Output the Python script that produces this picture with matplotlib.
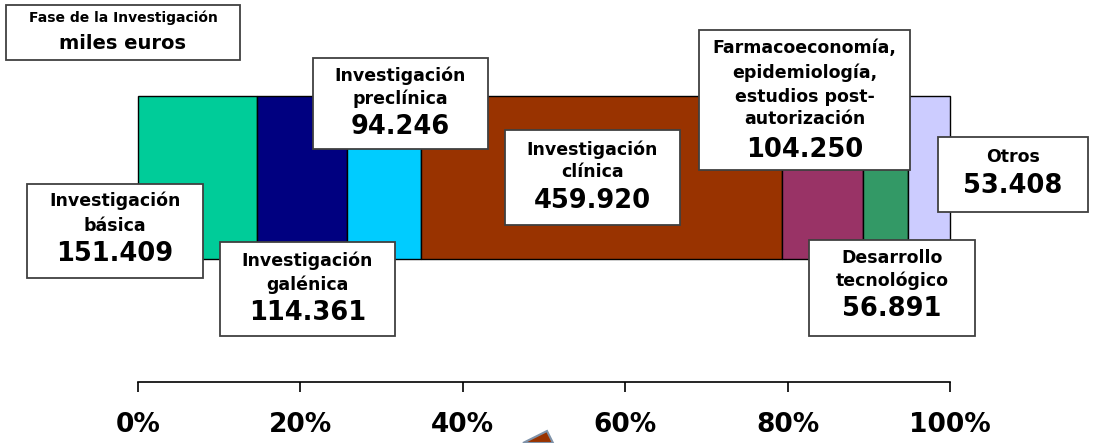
import matplotlib
matplotlib.use("Agg")
import matplotlib.pyplot as plt
from matplotlib.patches import Rectangle, Polygon
import numpy as np

# ---- data ----
categories = ["Investigación básica", "Investigación galénica", "Investigación preclínica",
              "Investigación clínica", "Farmacoeconomía, epidemiología, estudios post-autorización",
              "Desarrollo tecnológico", "Otros"]
values = [151.409, 114.361, 94.246, 459.920, 104.250, 56.891, 53.408]
value_labels = ["151.409", "114.361", "94.246", "459.920", "104.250", "56.891", "53.408"]
label_lines = [["Investigación", "básica"], ["Investigación", "galénica"],
               ["Investigación", "preclínica"], ["Investigación", "clínica"],
               ["Farmacoeconomía,", "epidemiología,", "estudios post-", "autorización"],
               ["Desarrollo", "tecnológico"], ["Otros"]]
colors = ["#00CC99", "#000080", "#00CCFF", "#993300", "#993366", "#339966", "#CCCCFF"]
tick_values = [0, 20, 40, 60, 80, 100]
tick_labels = ["0%", "20%", "40%", "60%", "80%", "100%"]

W, H = 1096, 443
fig = plt.figure(figsize=(W / 100, H / 100), dpi=100)
fig.patch.set_facecolor("white")

x0, x1 = 138, 950
ppu = (x1 - x0) / 100.0
ax = fig.add_axes([0, 0, 1, 1])
ax.set_xlim(-x0 / ppu, (W - x0) / ppu)
ax.set_ylim(H, 0)
ax.axis("off")

pct = np.array(values) / np.sum(values) * 100
left = np.concatenate([[0], np.cumsum(pct)[:-1]])
ax.barh(177.5, pct, left=left, height=163, color=colors, edgecolor="black",
        linewidth=1.0, zorder=2)

# axis below
ax2 = fig.add_axes([x0 / W, 1 - 382 / H, (x1 - x0) / W, 0.001])
ax2.set_xlim(0, 100)
ax2.set_facecolor("none")
for s in ["top", "left", "right"]:
    ax2.spines[s].set_visible(False)
ax2.spines["bottom"].set_linewidth(1.2)
ax2.set_yticks([])
ax2.set_xticks(tick_values)
ax2.set_xticklabels(tick_labels)
ax2.tick_params(axis="x", direction="out", length=7.5, width=1.2, pad=14,
                labelsize=19)
for t in ax2.get_xticklabels():
    t.set_fontweight("bold")

def px(x):
    return (x - x0) / ppu

def box(xl, yt, xr, yb):
    ax.add_patch(Rectangle((px(xl), yt), px(xr) - px(xl), yb - yt, facecolor="white",
                           edgecolor="#404040", linewidth=1.3, zorder=5))

# title box
box(6, 5, 240, 60)
ax.text(px(123), 18, "Fase de la Investigación", ha="center", va="center",
        fontsize=10, fontweight="bold", zorder=6)
ax.text(px(123), 43, "miles euros", ha="center", va="center",
        fontsize=14, fontweight="bold", zorder=6)

# label boxes: (left, top, right, bottom), line centers, number center
boxes = [
    ((27, 184, 203, 278), [201, 226], 254),
    ((220, 242, 395, 336), [261, 285], 313),
    ((313, 58, 488, 149), [76, 99], 127),
    ((505, 130, 680, 225), [150, 172], 201),
    ((699, 30, 910, 170), [48, 73, 97, 119], 150),
    ((809, 240, 975, 336), [258, 281], 309),
    ((938, 137, 1088, 212), [157], 186),
]
for (b, lys, ny), lines, vl in zip(boxes, label_lines, value_labels):
    box(*b)
    cx = px((b[0] + b[2]) / 2)
    for ly, txt in zip(lys, lines):
        ax.text(cx, ly, txt, ha="center", va="center", fontsize=12.5,
                fontweight="bold", zorder=6)
    ax.text(cx, ny, vl, ha="center", va="center", fontsize=18.5,
            fontweight="bold", zorder=6)

# small shape at the bottom
ax.add_patch(Polygon([(px(523), 443), (px(547), 431), (px(553), 443)], closed=True,
                     facecolor="#993300", edgecolor="#7f93aa", linewidth=1.5,
                     zorder=3, clip_on=False))

fig.savefig("out.png", dpi=100)
